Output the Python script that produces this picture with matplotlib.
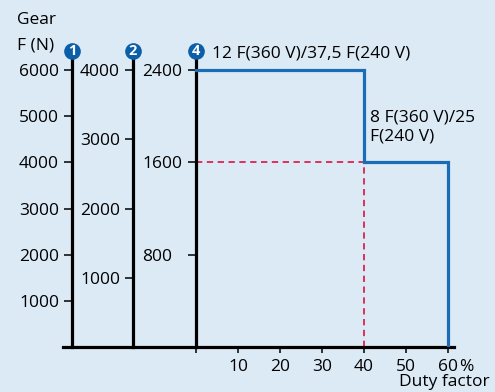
import matplotlib.pyplot as plt

plt.rcParams['font.family'] = ['Open Sans', 'DejaVu Sans']

# data
duty = [0, 40, 40, 60, 60]            # duty factor %
force4 = [2400, 2400, 1600, 1600, 0]  # gear 4 force (N)
ref_x = [0, 40, 40]
ref_y = [1600, 1600, 0]
xticks = [0, 10, 20, 30, 40, 50, 60]
xlabels = ['', '10', '20', '30', '40', '50', '60']
ticks_g1 = [1000, 2000, 3000, 4000, 5000, 6000]
ticks_g2 = [1000, 2000, 3000, 4000]
ticks_g4 = [800, 1600, 2400]
gear_names = ['1', '2', '4']

bg = '#dceaf6'
blue = '#1a6db4'
dark_blue = '#0b5ea8'
red = '#dc2350'

W, H = 495, 392
fig = plt.figure(figsize=(W / 100, H / 100), dpi=100)
fig.patch.set_facecolor(bg)

# layout in pixels
left_px, right_px, bottom_px, top_px = 63, 454, 347, 54
x0_px, px_per_pct = 196, 4.2
gear_px = [72, 133, 196]
ax = fig.add_axes([left_px / W, 1 - bottom_px / H,
                   (right_px - left_px) / W, (bottom_px - top_px) / H])
ax.patch.set_alpha(0)

xmin = (left_px - x0_px) / px_per_pct
xmax = (right_px - x0_px) / px_per_pct
ytop4 = 2400 * (bottom_px - top_px) / (bottom_px - 70)
ax.set_xlim(xmin, xmax)
ax.set_ylim(0, ytop4)

gear_x = [(p - x0_px) / px_per_pct for p in gear_px]

ax.plot(ref_x, ref_y, color=red, lw=1.3, dashes=(3.5, 2.5), zorder=2)
ax.plot(duty, force4, color=blue, lw=2.3, solid_joinstyle='miter', zorder=3)

for s in ['top', 'right']:
    ax.spines[s].set_visible(False)
ax.spines['left'].set_position(('data', 0))
ax.spines['left'].set_linewidth(2.3)
ax.spines['bottom'].set_linewidth(2.3)
ax.set_xticks(xticks)
ax.set_xticklabels(xlabels)
ax.set_yticks(ticks_g4)
ax.tick_params(axis='x', direction='out', length=4.5, width=1.1, pad=4, labelsize=12.5)
ax.tick_params(axis='y', direction='out', length=5.8, width=1.1, pad=33, labelsize=12.5)
for lab in ax.get_yticklabels():
    lab.set_horizontalalignment('left')

# extra force axes for gears 1 and 2
tw = None
for gx, ticks, top in [(gear_x[0], ticks_g1, ytop4 * 2.5),
                       (gear_x[1], ticks_g2, ytop4 * 5 / 3)]:
    tw = ax.twinx()
    tw.set_ylim(0, top)
    for s in ['top', 'right', 'bottom']:
        tw.spines[s].set_visible(False)
    tw.spines['left'].set_visible(True)
    tw.spines['left'].set_position(('data', gx))
    tw.spines['left'].set_linewidth(2.3)
    tw.yaxis.set_ticks_position('left')
    tw.yaxis.set_label_position('left')
    tw.set_yticks(ticks)
    tw.tick_params(axis='y', direction='out', length=5.8, width=1.1, pad=3.5, labelsize=12.5)

# gear markers, drawn on the last axes so they sit above every spine
ycirc = 2400 * (bottom_px - 51) / (bottom_px - 70)
for gx, name in zip(gear_x, gear_names):
    tw.plot([gx], [ycirc], 'o', ms=12, color=dark_blue, mec='none', clip_on=False,
            zorder=5, transform=ax.transData)
    tw.text(gx, ycirc, name, color='white', fontsize=10.5, fontweight='bold',
            ha='center', va='center', zorder=6, clip_on=False, transform=ax.transData)

ax.text(3.8, ycirc - 22, '12 F(360 V)/37,5 F(240 V)', fontsize=12.5, va='center', ha='left')
ax.text(41.5, 1910, '8 F(360 V)/25\nF(240 V)', fontsize=12.5, va='center', ha='left',
        linespacing=1.25)

fig.text(17 / W, 1 - 20 / H, 'Gear', fontsize=12.5, va='center', ha='left')
fig.text(17 / W, 1 - 46 / H, 'F (N)', fontsize=12.5, va='center', ha='left')
fig.text(459 / W, 1 - 367 / H, '%', fontsize=12.5, va='center', ha='left')
fig.text(490 / W, 1 - 382 / H, 'Duty factor', fontsize=12.5, va='center', ha='right')

fig.savefig('out.png', dpi=100, facecolor=bg)
